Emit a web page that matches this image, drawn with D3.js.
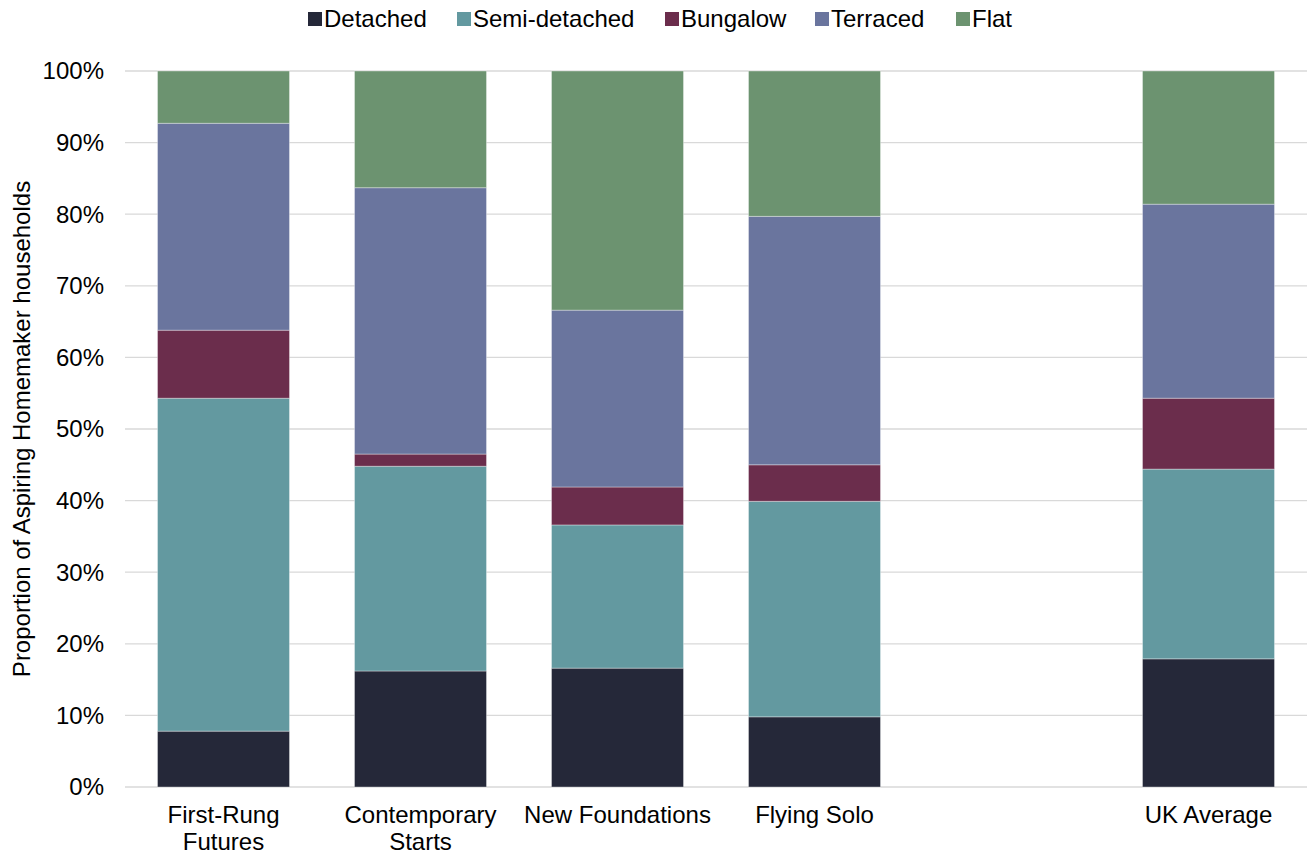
<!DOCTYPE html>
<html>
<head>
<meta charset="utf-8">
<script src="https://cdn.jsdelivr.net/npm/d3@7"></script>
<style>
  body { margin: 0; background: #fff; }
  text { font-family: "Liberation Sans", Arial, sans-serif; fill: #000; }
</style>
</head>
<body>
<div id="chart"></div>
<script>
const width = 1307;
const height = 854;

// categories (empty slot between Flying Solo and UK Average)
const categories = ["First-Rung Futures", "Contemporary Starts", "New Foundations", "Flying Solo", "", "UK Average"];
const seriesNames = ["Detached", "Semi-detached", "Bungalow", "Terraced", "Flat"];
const colors = ["#252839", "#6399a0", "#6b2d4c", "#6a759e", "#6c9370"];

// values in percent, one array per series
const detached     = [7.8, 16.2, 16.6, 9.8, null, 17.9];
const semiDetached = [46.5, 28.6, 20.0, 30.1, null, 26.5];
const bungalow     = [9.5, 1.7, 5.3, 5.1, null, 9.9];
const terraced     = [28.9, 37.2, 24.7, 34.7, null, 27.1];
const flat         = [7.3, 16.3, 33.4, 20.3, null, 18.6];

const yTicks = [0, 10, 20, 30, 40, 50, 60, 70, 80, 90, 100];

const margin = {top: 71, right: 0, bottom: 67, left: 125};
const fontSize = "24px";

const svg = d3.select("#chart").append("svg")
  .attr("width", width)
  .attr("height", height);

const x = d3.scaleBand()
  .domain(d3.range(categories.length))
  .range([margin.left, width - margin.right])
  .paddingInner(0.33)
  .paddingOuter(0.165);

const y = d3.scaleLinear()
  .domain([0, 100])
  .range([height - margin.bottom, margin.top]);

// gridlines
svg.append("g")
  .selectAll("line")
  .data(yTicks)
  .join("line")
  .attr("x1", margin.left)
  .attr("x2", width - margin.right)
  .attr("y1", d => y(d))
  .attr("y2", d => y(d))
  .attr("stroke", "#d9d9d9")
  .attr("stroke-width", 1.3);

// y tick labels
svg.append("g")
  .selectAll("text")
  .data(yTicks)
  .join("text")
  .attr("x", 104)
  .attr("y", d => y(d))
  .attr("dy", "0.35em")
  .attr("text-anchor", "end")
  .style("font-size", fontSize)
  .text(d => d + "%");

// build table for stack
const table = categories.map((c, i) => ({
  i: i,
  "Detached": detached[i] || 0,
  "Semi-detached": semiDetached[i] || 0,
  "Bungalow": bungalow[i] || 0,
  "Terraced": terraced[i] || 0,
  "Flat": flat[i] || 0
})).filter(d => categories[d.i] !== "");

const stacked = d3.stack().keys(seriesNames)(table);

svg.append("g")
  .selectAll("g")
  .data(stacked)
  .join("g")
  .attr("fill", (d, i) => colors[i])
  .selectAll("rect")
  .data(d => d)
  .join("rect")
  .attr("x", d => x(d.data.i))
  .attr("width", x.bandwidth())
  .attr("y", d => y(d[1]))
  .attr("height", d => y(d[0]) - y(d[1]))
  .attr("stroke", "rgba(255,255,255,0.35)")
  .attr("stroke-width", 1);

// category labels
const catLabels = svg.append("g")
  .selectAll("text")
  .data(categories.map((c, i) => ({c, i})).filter(d => d.c !== ""))
  .join("text")
  .attr("x", d => x(d.i) + x.bandwidth() / 2)
  .attr("y", 823)
  .attr("text-anchor", "middle")
  .style("font-size", fontSize);

catLabels.each(function(d) {
  const lines = d.c === "First-Rung Futures" ? ["First-Rung", "Futures"]
    : d.c === "Contemporary Starts" ? ["Contemporary", "Starts"]
    : [d.c];
  d3.select(this).selectAll("tspan")
    .data(lines)
    .join("tspan")
    .attr("x", x(d.i) + x.bandwidth() / 2)
    .attr("dy", (l, j) => j === 0 ? 0 : 27)
    .text(l => l);
});

// y axis title
svg.append("text")
  .attr("transform", `translate(30, ${(y(0) + y(100)) / 2}) rotate(-90)`)
  .attr("text-anchor", "middle")
  .style("font-size", fontSize)
  .text("Proportion of Aspiring Homemaker households");

// legend
const legendX = [308, 457, 665, 815, 956];
const legend = svg.append("g")
  .selectAll("g")
  .data(seriesNames)
  .join("g")
  .attr("transform", (d, i) => `translate(${legendX[i]}, 19)`);

legend.append("rect")
  .attr("x", 0)
  .attr("y", -7)
  .attr("width", 14)
  .attr("height", 14)
  .attr("fill", (d, i) => colors[i]);

legend.append("text")
  .attr("x", 16)
  .attr("dy", "0.35em")
  .style("font-size", fontSize)
  .text(d => d);
</script>
</body>
</html>
